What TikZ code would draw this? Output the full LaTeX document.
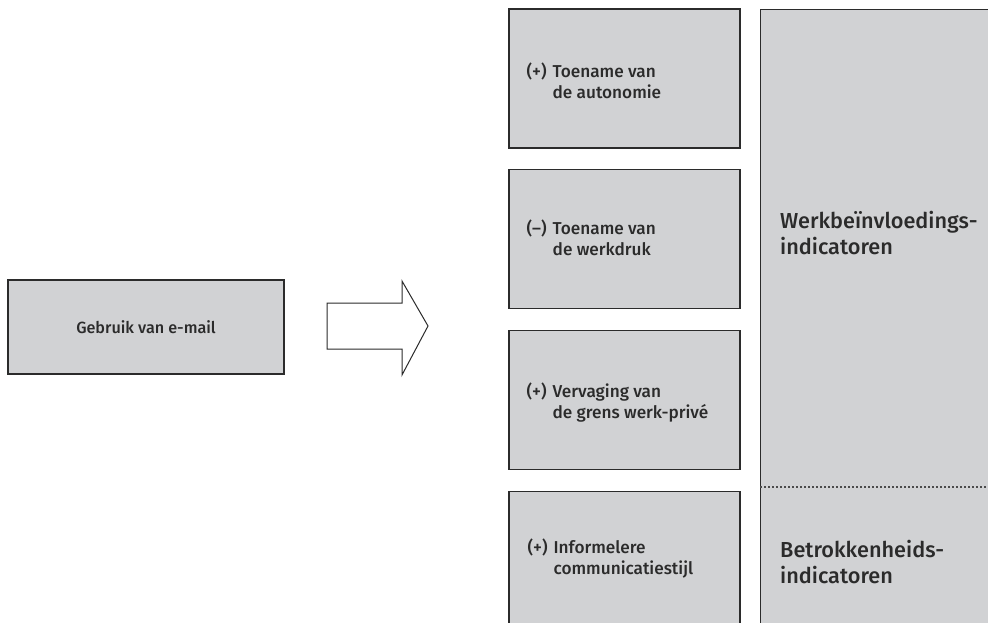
\documentclass[tikz,border=0pt]{standalone}
\usepackage{fontspec}
\setmainfont{Fira Sans}[UprightFont={* Medium}, BoldFont={* SemiBold}]
\usetikzlibrary{calc,positioning}

\definecolor{boxgray}{HTML}{D1D2D4}
\definecolor{inkgray}{HTML}{2B2B2B}

\newcommand{\effect}[3]{\begin{tabular}{@{}l@{\hspace{6pt}}l@{}}#1 & #2\\ & #3\end{tabular}}

\tikzset{
  graybox/.style={draw=inkgray, fill=boxgray, line width=1.1pt, inner sep=0pt},
  smalltxt/.style={text=inkgray, font=\fontsize{17.2}{21}\selectfont, inner sep=0pt},
  bigtxt/.style={text=inkgray, font=\fontsize{21.7}{26}\selectfont, align=left, inner sep=0pt},
}

\begin{document}
\begin{tikzpicture}[x=1pt, y=-1pt]
        \clip (0,0) rectangle (988,622);
        \fill[white] (0,0) rectangle (988,622);

        \node [graybox, minimum width=276pt, minimum height=94pt] (email) at (146,327) {};
        \node [smalltxt, font=\fontsize{16.2}{21}\selectfont] at (email) {Gebruik van e-mail};

        % block arrow
        \coordinate (tail) at (327,326);
        \draw[inkgray, line width=1pt, fill=white] (tail) ++(0,-23) -- ++(75,0) -- ++(0,-22) -- (428,326)
            -- (402,375) -- ++(0,-26) -- ++(-75,0) -- cycle;

        \node [graybox, minimum width=231pt, minimum height=139pt] (auto) at (624.5,78.5) {};
        \node [graybox, minimum width=231pt, minimum height=139pt, below=20pt of auto] (druk) {};
        \node [graybox, minimum width=231pt, minimum height=139pt, below=21pt of druk] (grens) {};
        \node [graybox, minimum width=231pt, minimum height=170pt, below=21pt of grens] (stijl) {};

        \node [smalltxt, anchor=west] at ($(auto.west)+(18pt,-5pt)$) {\effect{(+)}{Toename van}{de autonomie}};
        \node [smalltxt, anchor=west] at ($(druk.west)+(18pt,-2pt)$) {\effect{(--)}{Toename van}{de werkdruk}};
        \node [smalltxt, anchor=west] at ($(grens.west)+(18pt,-4pt)$) {\effect{(+)}{Vervaging van}{de grens werk-privé}};
        \node [smalltxt, anchor=west] at ($(stijl.north west)+(19pt,-69pt)$) {\effect{(+)}{Informelere}{communicatiestijl}};

        \node [graybox, anchor=north west, minimum width=260pt, minimum height=640pt] (indic) at (760,9) {};
        \coordinate (split) at (760,487);
        \draw[inkgray!85, dash pattern=on 2pt off 2pt, line width=1.2pt] (split) -- (split -| indic.east);

        \node [bigtxt, anchor=west] (werk) at (780,233.5) {Werkbeïnvloedings-\\indicatoren};
        \node [bigtxt, anchor=west] (betr) at (780,562.5) {Betrokkenheids-\\indicatoren};
\end{tikzpicture}
\end{document}
